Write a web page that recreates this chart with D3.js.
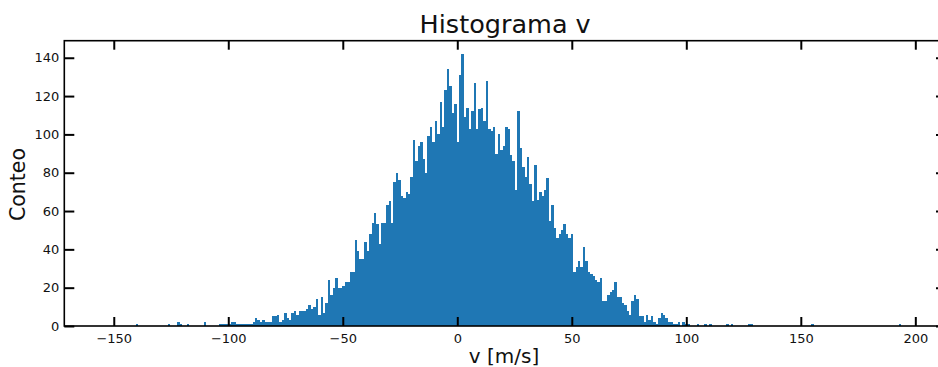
<!DOCTYPE html>
<html>
<head>
<meta charset="utf-8">
<script src="https://cdnjs.cloudflare.com/ajax/libs/d3/7.8.5/d3.min.js"></script>
<style>
body { margin: 0; background: #fff; }
svg { display: block; font-family: "DejaVu Sans", sans-serif; }
</style>
</head>
<body>
<div id="chart"></div>
<script>
// histogram bins (start + width in m/s) and counts
var binStart = -154.1;
var binWidth = 1.0606;
var counts = [
  0,0,0,0,0,0,0,0,0,0, 0,0,0,1,0,0,0,0,0,0,
  0,0,0,0,0,0,1,0,0,0, 2,1,0,0,1,0,0,0,0,0,
  0,2,0,0,0,0,0,1,1,1, 1,1,2,2,1,1,1,1,1,1,
  1,2,4,3,2,3,2,2,2,5, 5,6,2,3,7,4,3,7,8,6,
  8,8,8,9,11,9,10,14,6,15, 7,12,24,16,20,25,20,20,21,23,
  23,28,28,45,39,35,35,44,39,48, 54,59,53,43,54,54,63,65,54,75,
  80,76,68,67,70,69,78,97,86,94, 96,87,80,99,104,96,107,100,117,104,
  123,134,125,111,116,96,131,142,109,114, 103,112,127,103,113,114,107,128,103,102,
  104,90,100,92,94,104,103,89,86,71, 112,93,83,78,88,74,65,84,66,70,
  68,71,77,55,63,51,46,48,50,53, 48,46,48,28,31,34,31,41,34,28,
  27,26,24,23,25,13,13,16,18,19, 23,15,15,12,11,8,6,13,16,14,
  5,5,2,6,3,5,2,1,4,7, 6,4,2,2,1,1,2,0,2,1,
  1,0,0,0,1,0,0,1,0,1, 0,0,0,0,0,0,1,0,1,0,
  0,0,0,0,0,1,1,0,0,0, 0,0,0,0,0,0,0,0,0,0,
  0,0,0,0,0,0,0,0,0,0, 0,1,0,0,0,0,0,0,0,0,
  0,0,0,0,0,0,0,0,0,0, 0,0,0,0,0,0,0,0,0,0,
  0,0,0,0,0,0,0,1,0,0
];
var xTicks = [-150, -100, -50, 0, 50, 100, 150, 200];
var yTicks = [0, 20, 40, 60, 80, 100, 120, 140];

function init(){
    var w = 938;
    var h = 367;
    var left = 64.3, right = 946, top = 40.7, bottom = 326;

    var xScale = d3.scaleLinear()
                .domain([-171.6, 213.4])
                .range([left, right]);

    var yScale = d3.scaleLinear()
                .domain([0, 148.9])
                .range([bottom, top]);

    var svg = d3.select("#chart")
                .append("svg")
                .attr("width", w)
                .attr("height", h);

    var bins = counts.map(function(c, i){
        return {x0: binStart + i * binWidth, x1: binStart + (i + 1) * binWidth, n: c};
    }).filter(function(d){ return d.n > 0; });

    // snap bar edges to whole pixels so neighbours touch without seams
    svg.append("g")
        .attr("shape-rendering", "crispEdges")
        .selectAll("rect")
        .data(bins)
        .enter()
        .append("rect")
        .attr("x", function(d){ return Math.round(xScale(d.x0)); })
        .attr("y", function(d){ return Math.round(yScale(d.n)); })
        .attr("width", function(d){ return Math.round(xScale(d.x1)) - Math.round(xScale(d.x0)); })
        .attr("height", function(d){ return Math.round(yScale(0)) - Math.round(yScale(d.n)); })
        .attr("fill", "#1f77b4");

    // axes, ticks pointing inward
    var xAxis = d3.axisBottom(xScale).tickValues(xTicks).tickSizeInner(-9).tickSizeOuter(0).tickPadding(7.5);
    var xTop = d3.axisTop(xScale).tickValues(xTicks).tickSizeInner(-9).tickSizeOuter(0).tickFormat("");
    var yAxis = d3.axisLeft(yScale).tickValues(yTicks).tickSizeInner(-10).tickSizeOuter(0).tickPadding(5);
    var yRight = d3.axisRight(yScale).tickValues(yTicks).tickSizeInner(-10).tickSizeOuter(0).tickFormat("");

    var gx = svg.append("g").attr("transform", "translate(0," + bottom + ")").call(xAxis);
    var gt = svg.append("g").attr("transform", "translate(0," + top + ")").call(xTop);
    var gy = svg.append("g").attr("transform", "translate(" + left + ",0)").call(yAxis);
    var gr = svg.append("g").attr("transform", "translate(" + right + ",0)").call(yRight);

    [gx, gt, gy, gr].forEach(function(g){
        g.select(".domain").remove();
        g.selectAll(".tick line").attr("stroke", "#000").attr("stroke-width", 2);
        g.selectAll(".tick text")
            .attr("fill", "#111")
            .attr("font-size", "13px")
            .attr("font-family", "DejaVu Sans, sans-serif");
    });

    // spines
    svg.append("rect")
        .attr("x", left)
        .attr("y", top)
        .attr("width", right - left)
        .attr("height", bottom - top)
        .attr("fill", "none")
        .attr("stroke", "#000")
        .attr("stroke-width", 1.6);

    svg.append("text")
        .attr("x", (left + right) / 2)
        .attr("y", 33.3)
        .attr("text-anchor", "middle")
        .attr("font-size", "25.5px")
        .attr("fill", "#111")
        .text("Histograma v");

    svg.append("text")
        .attr("x", 504)
        .attr("y", 362.5)
        .attr("text-anchor", "middle")
        .attr("font-size", "20px")
        .attr("fill", "#111")
        .text("v [m/s]");

    svg.append("text")
        .attr("transform", "translate(25," + 184.5 + ") rotate(-90)")
        .attr("text-anchor", "middle")
        .attr("font-size", "20.5px")
        .attr("fill", "#111")
        .text("Conteo");
}

window.onload = init;
</script>
</body>
</html>
